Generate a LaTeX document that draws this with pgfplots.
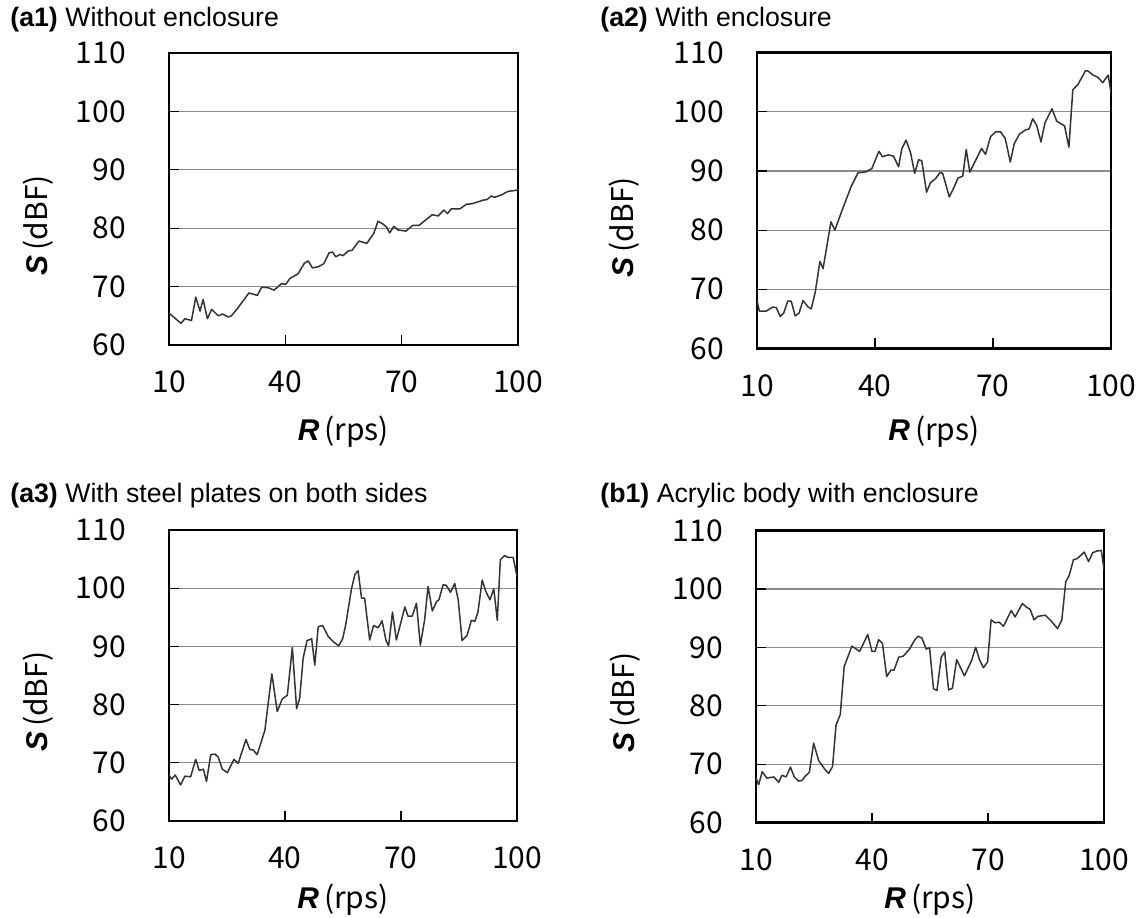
\documentclass[border=0pt]{standalone}
\usepackage{fontspec}
\setmainfont{Liberation Sans}
\newfontfamily\gothic{Noto Sans CJK JP}
\usepackage{pgfplots}
\pgfplotsset{compat=1.18}

\pgfplotsset{
  panel/.style={
    scale only axis,
    xmin=10, xmax=100, ymin=60, ymax=110,
    xtick={10,40,70,100}, ytick={60,70,...,110},
    tick pos=left, tick align=inside,
    major tick length=5pt,
    ymajorgrids,
    major grid style={black!45, line width=0.6pt},
    axis line style={line width=1.2pt},
    every tick/.style={black, line width=0.6pt},
    /pgf/number format/assume math mode=true,
    ticklabel style={font=\gothic\fontsize{15}{15}\selectfont},
    xticklabel style={yshift=-9.5pt},
    label style={font=\fontsize{15}{15}\selectfont},
    ylabel={\textbf{\textit{S}}\,{\gothic(dBF)}},
    xlabel={\textbf{\textit{R}}\,{\gothic(rps)}},
    ylabel style={at={(axis description cs:-0.375,0.41)}, anchor=center},
  },
  curve/.style={black!80, line width=0.75pt, line join=round},
}

\begin{document}
\begin{tikzpicture}
\path[use as bounding box] (0,0) rectangle (570.5pt,458.5pt);

% titles
\node[anchor=base west, inner sep=0pt, font=\fontsize{13.35}{13.35}\selectfont] at (5pt,445pt) {\textbf{(a1)} Without enclosure};
\node[anchor=base west, inner sep=0pt, font=\fontsize{13.35}{13.35}\selectfont] at (300pt,445pt) {\textbf{(a2)} With enclosure};
\node[anchor=base west, inner sep=0pt, font=\fontsize{13.35}{13.35}\selectfont] at (5pt,207pt) {\textbf{(a3)} With steel plates on both sides};
\node[anchor=base west, inner sep=0pt, font=\fontsize{13.35}{13.35}\selectfont] at (300pt,207pt) {\textbf{(b1)} Acrylic body with enclosure};

% (a1)
\begin{axis}[panel, at={(84.5pt,286pt)}, anchor=south west,
  width=174.5pt, height=146pt,
  yticklabel style={xshift=-18pt},
  xlabel style={at={(axis description cs:0.5,-0.298)}, anchor=center}]
\addplot[curve] coordinates {
(10,65.3) (10.3,65.3) (13.1,63.7) (14.1,64.5) (15.8,64.2) (16.9,68.2) (18.0,65.8)
(18.8,67.8) (19.9,64.5) (21.0,66.1) (22.7,65.0) (23.8,65.3) (25.3,64.8) (26.1,65.0)
(27.6,66.2) (30.6,68.9) (32.8,68.5) (33.9,69.9) (35.6,69.8) (37.1,69.4) (39.0,70.5)
(40.1,70.4) (41.2,71.4) (43.3,72.2) (44.9,74.0) (45.9,74.4) (47.0,73.2) (48.5,73.4)
(49.9,73.9) (51.3,75.8) (52.2,75.9) (53.0,75.1) (54.1,75.5) (54.9,75.3) (56.2,76.1)
(57.2,76.2) (59.0,77.8) (61.0,77.4) (62.8,79.1) (63.9,81.2) (65.2,80.7) (66.1,80.2)
(66.9,79.2) (68.0,80.3) (69.1,79.7) (71.1,79.5) (72.9,80.5) (74.5,80.5) (76.0,81.3)
(77.9,82.3) (79.4,82.1) (80.9,83.1) (81.8,82.5) (82.8,83.3) (85.0,83.3) (86.7,84.1)
(88.2,84.2) (91.0,84.8) (92.0,84.9) (93.1,85.5) (94.0,85.3) (95.7,85.7) (97.4,86.3)
(99.6,86.5) (100,86.5)
};
\end{axis}

% (a2)
\begin{axis}[panel, at={(378.5pt,284.25pt)}, anchor=south west,
  width=177pt, height=148pt,
  yticklabel style={xshift=-13pt},
  xlabel style={at={(axis description cs:0.5,-0.282)}, anchor=center}]
\addplot[curve] coordinates {
(10,68.1) (10.6,66.3) (12.3,66.3) (14.0,67.0) (14.9,66.9) (15.9,65.4) (16.8,66.0)
(17.8,68.0) (18.7,68.0) (19.7,65.5) (20.7,66.0) (21.7,68.1) (23.0,67.0) (23.8,66.7)
(24.8,69.5) (26.0,74.7) (26.8,73.5) (28.8,81.4) (29.8,80.0) (31.5,83.1) (33.9,87.3)
(35.7,89.7) (37.5,89.8) (39.2,90.4) (41.0,93.3) (41.9,92.4) (43.4,92.7) (44.7,92.5)
(46.0,90.7) (46.8,93.7) (47.9,95.2) (49.0,93.2) (50.1,89.6) (51.1,91.9) (51.9,91.7)
(53.1,86.4) (54.1,88.0) (55.4,88.7) (56.5,89.7) (57.2,89.6) (58.9,85.6) (60.0,87.1)
(61.1,88.8) (62.3,89.1) (63.2,93.6) (64.1,89.8) (65.6,91.8) (67.1,93.8) (68.1,92.8)
(69.4,95.8) (70.7,96.6) (71.9,96.6) (73.1,95.5) (74.4,91.5) (75.4,94.6) (76.7,96.2)
(78.2,96.9) (79.2,97.1) (80.1,98.8) (81.1,97.7) (82.2,94.9) (83.2,98.1) (85.0,100.5)
(86.2,98.4) (88.2,97.6) (89.3,94.0) (90.3,103.7) (91.6,104.6) (93.5,106.9) (94.1,106.9)
(95.4,106.2) (96.7,105.8) (97.9,104.9) (99.3,106.2) (100,103.2)
};
\end{axis}

% (a3)
\begin{axis}[panel, at={(84.5pt,48pt)}, anchor=south west,
  width=174pt, height=145.5pt,
  yticklabel style={xshift=-18pt},
  xlabel style={at={(axis description cs:0.5,-0.271)}, anchor=center}]
\addplot[curve] coordinates {
(10,67.9) (10.7,67.2) (11.6,67.9) (13.0,66.2) (14.1,67.7) (15.6,67.6) (16.9,70.6)
(17.8,68.7) (18.9,68.9) (19.7,66.8) (20.8,71.4) (21.9,71.5) (22.7,71.0) (23.8,68.9)
(25.1,68.3) (26.8,70.6) (27.9,69.9) (29.9,74.0) (30.9,72.3) (31.8,72.2) (32.8,71.4)
(34.8,75.6) (35.6,79.9) (36.6,85.3) (38.0,78.8) (39.3,81.0) (40.6,81.6) (41.9,89.8)
(43.0,79.3) (43.8,81.1) (44.7,88.0) (45.7,91.0) (46.9,91.3) (47.7,86.8) (48.6,93.4)
(49.7,93.6) (51.2,91.7) (52.5,90.8) (53.9,90.1) (54.9,91.3) (55.7,93.7) (57.2,99.9)
(58.1,102.4) (58.9,103.0) (59.8,98.3) (60.6,98.3) (61.9,91.1) (62.9,93.6) (64.1,93.2)
(65.1,94.4) (66.1,91.1) (66.8,90.1) (67.8,95.9) (68.8,91.1) (71.0,96.8) (71.8,95.2)
(72.9,95.2) (74.0,97.4) (75.0,90.2) (76.1,94.5) (77.0,100.3) (78.1,96.1) (79.2,97.7)
(79.8,98.0) (80.9,100.6) (81.7,100.5) (82.8,99.3) (83.9,100.8) (84.8,98.0) (85.8,91.0)
(87.1,91.9) (88.2,94.5) (89.1,94.3) (89.9,95.9) (91.0,101.4) (91.9,99.5) (93.0,98.0)
(94.0,99.9) (94.9,94.5) (95.7,104.9) (96.8,105.6) (97.7,105.3) (99.0,105.3) (100,102.0)
};
\end{axis}

% (b1)
\begin{axis}[panel, at={(378pt,47.25pt)}, anchor=south west,
  width=174pt, height=146pt,
  yticklabel style={xshift=-13pt},
  xlabel style={at={(axis description cs:0.5,-0.265)}, anchor=center}]
\addplot[curve] coordinates {
(10,67.6) (10.7,66.5) (11.6,68.7) (12.8,67.6) (14.6,67.8) (15.9,66.9) (16.7,68.1)
(17.8,67.8) (18.9,69.5) (19.9,67.8) (21.0,67.1) (21.9,67.2) (22.7,67.9) (23.8,68.6)
(24.9,73.6) (26.2,70.6) (27.7,69.2) (28.8,68.4) (29.8,69.6) (30.7,76.7) (31.8,78.5)
(32.8,86.7) (34.8,90.2) (36.8,89.3) (38.9,92.2) (40.0,89.3) (40.8,89.3) (41.7,91.3)
(42.7,90.7) (43.8,85.0) (44.9,86.1) (45.7,86.1) (46.9,88.3) (48.1,88.5) (49.6,89.6)
(51.0,91.2) (51.9,91.9) (52.9,91.6) (54.0,89.7) (54.9,89.9) (55.9,82.9) (56.8,82.6)
(57.9,88.3) (58.8,89.2) (59.8,82.7) (60.8,83.0) (61.9,87.9) (63.9,85.1) (65.8,87.8)
(66.8,90.0) (67.8,87.9) (68.8,86.5) (69.9,87.5) (70.8,94.7) (71.8,94.2) (72.9,94.3)
(74.0,93.6) (76.0,96.3) (77.0,95.2) (78.9,97.5) (79.9,96.9) (80.9,96.5) (81.9,94.7)
(82.9,95.3) (84.8,95.5) (86.2,94.6) (88.0,93.2) (89.1,94.7) (90.1,101.2) (91.0,102.3)
(92.1,105.0) (93.1,105.2) (94.9,106.3) (96.0,104.7) (97.1,106.2) (98.2,106.5) (99.3,106.6)
(100,103.3)
};
\end{axis}
\end{tikzpicture}
\end{document}
